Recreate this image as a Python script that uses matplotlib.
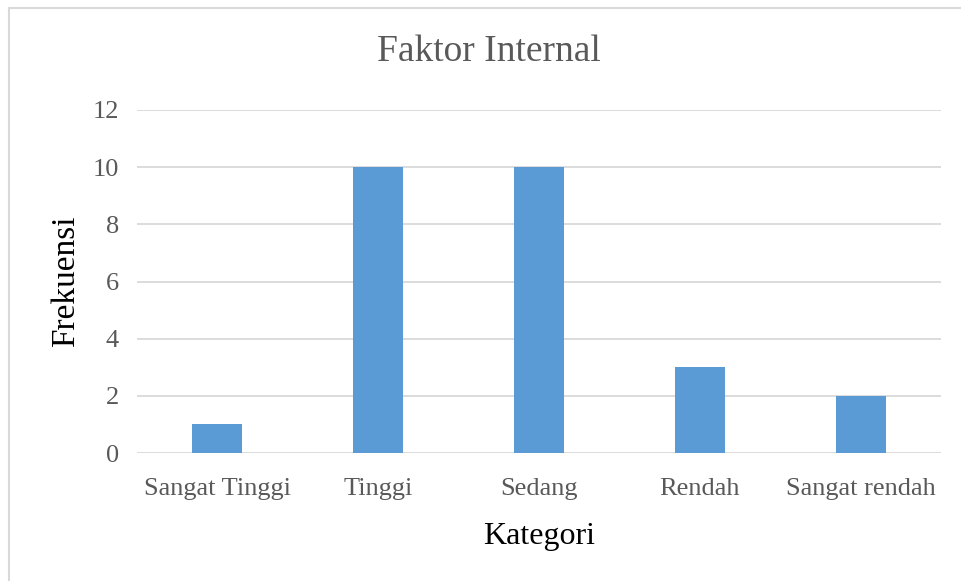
import matplotlib
matplotlib.use("Agg")
import matplotlib.pyplot as plt
from matplotlib.patches import Rectangle

categories = ["Sangat Tinggi", "Tinggi", "Sedang", "Rendah", "Sangat rendah"]
frekuensi = [1, 10, 10, 3, 2]
yticks = [0, 2, 4, 6, 8, 10, 12]

plt.rcParams["font.family"] = ["Liberation Serif", "DejaVu Serif"]

W, H = 961, 581
fig = plt.figure(figsize=(W / 100, H / 100), dpi=100)
ax = fig.add_axes([137 / W, (H - 453) / H, (941 - 137) / W, (453 - 110) / H])

# chart border (light gray, runs off the right and bottom edges)
fig.patches.append(Rectangle((9 / W, -0.05), 1.2, (H - 8) / H + 0.05,
                             transform=fig.transFigure, fill=False,
                             edgecolor="#d9d9d9", linewidth=1.5))

xs = range(len(categories))
ax.bar(xs, frekuensi, width=0.31, color="#5b9bd5", zorder=3)

ax.set_xlim(-0.5, len(categories) - 0.5)
ax.set_ylim(0, 12)
ax.set_yticks(yticks)
ax.set_xticks(list(xs))
ax.set_xticklabels(categories)
ax.grid(axis="y", color="#d9d9d9", linewidth=1.3, zorder=0)
for s in ax.spines.values():
    s.set_visible(False)
ax.tick_params(length=0, labelsize=19, colors="#595959")
ax.tick_params(axis="y", pad=13)
ax.tick_params(axis="x", pad=18)

ax.set_ylabel("Frekuensi", fontsize=24, color="black", labelpad=8)
ax.set_xlabel("Kategori", fontsize=23, color="black", labelpad=16)
fig.text(489 / W, 1 - 52 / H, "Faktor Internal", ha="center", va="center",
         fontsize=27, color="#595959")

fig.savefig("out.png", dpi=100)
